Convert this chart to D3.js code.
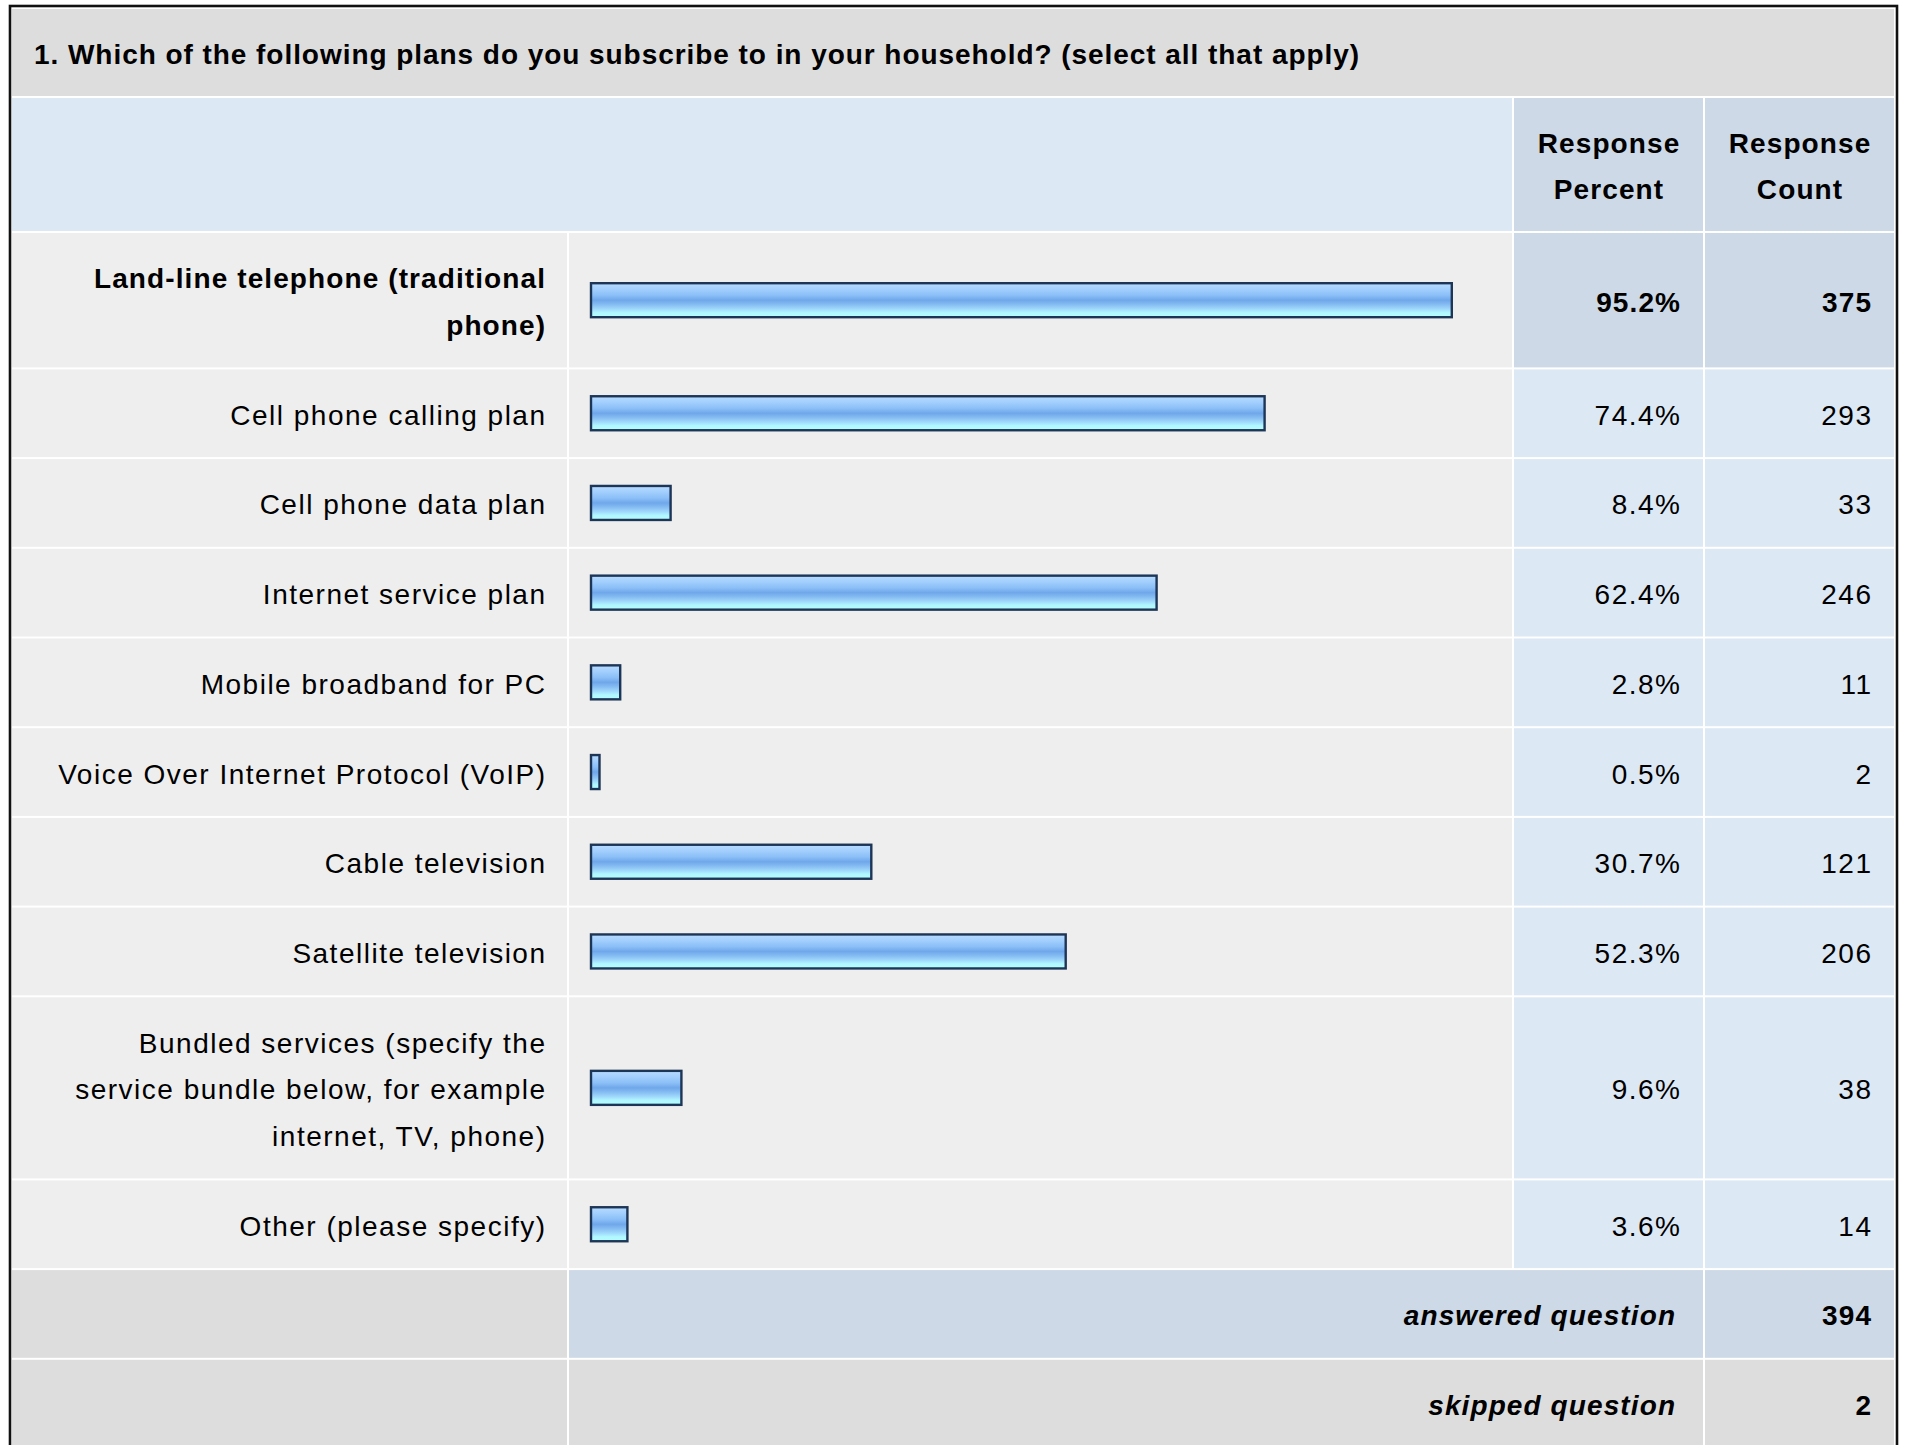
<!DOCTYPE html>
<html>
<head>
<meta charset="utf-8">
<script src="https://cdn.jsdelivr.net/npm/d3@7"></script>
<style>
  html, body { margin: 0; padding: 0; background: #ffffff; }
  svg { display: block; }
  text { font-family: "Liberation Sans", Arial, Helvetica, sans-serif; }
</style>
</head>
<body>
<svg id="chart" width="1909" height="1445"></svg>
<script>
const title = "1. Which of the following plans do you subscribe to in your household? (select all that apply)";
const headerPercent = ["Response", "Percent"];
const headerCount = ["Response", "Count"];
const categories = [
  "Land-line telephone (traditional phone)",
  "Cell phone calling plan",
  "Cell phone data plan",
  "Internet service plan",
  "Mobile broadband for PC",
  "Voice Over Internet Protocol (VoIP)",
  "Cable television",
  "Satellite television",
  "Bundled services (specify the service bundle below, for example internet, TV, phone)",
  "Other (please specify)"
];
const percents = [95.2, 74.4, 8.4, 62.4, 2.8, 0.5, 30.7, 52.3, 9.6, 3.6];
const counts = [375, 293, 33, 246, 11, 2, 121, 206, 38, 14];
const highlighted = [true, false, false, false, false, false, false, false, false, false];
const summaryLabels = ["answered question", "skipped question"];
const summaryValues = [394, 2];

const svg = d3.select("#chart");
const FONT = 28, LH = 46.7, PAD = 43;
const LS_NORMAL = 1.5, LS_BOLD = 1.1, LS_TITLE = 0.95;
const col = { l0: 12, l1: 567, b0: 569, b1: 1512, p0: 1514, p1: 1703, c0: 1705, c1: 1894 };
const C = { title: "#dddddd", header: "#dde8f5", headDark: "#cdd9e6", row: "#eeeeee",
            val: "#dde8f5", valDark: "#cdd9e6", gray: "#dddddd" };

// gradient for bars
const defs = svg.append("defs");
const grad = defs.append("linearGradient").attr("id", "barGrad")
  .attr("x1", 0).attr("y1", 0).attr("x2", 0).attr("y2", 1);
[[0, "#b8dcff"], [0.18, "#a2cffd"], [0.35, "#8cc0f7"], [0.5, "#6fa7ea"], [0.62, "#84bbf2"],
 [0.75, "#9ed6fb"], [0.86, "#b0f6ff"], [1, "#b4ffff"]]
  .forEach(([o, c]) => grad.append("stop").attr("offset", o).attr("stop-color", c));

// title band
svg.append("rect").attr("x", col.l0).attr("y", 9).attr("width", col.c1 - col.l0).attr("height", 87).attr("fill", C.title);
svg.append("text").attr("x", 34).attr("y", 64).attr("font-size", FONT).attr("font-weight", "bold")
  .attr("letter-spacing", LS_TITLE).attr("fill", "#000").text(title);

// header band
const hy0 = 98, hy1 = 231;
svg.append("rect").attr("x", col.l0).attr("y", hy0).attr("width", col.b1 - col.l0).attr("height", hy1 - hy0).attr("fill", C.header);
svg.append("rect").attr("x", col.p0).attr("y", hy0).attr("width", col.p1 - col.p0).attr("height", hy1 - hy0).attr("fill", C.headDark);
svg.append("rect").attr("x", col.c0).attr("y", hy0).attr("width", col.c1 - col.c0).attr("height", hy1 - hy0).attr("fill", C.headDark);

function multiline(lines, x, cy, anchor, weight, style) {
  const n = lines.length;
  const ls = weight === "bold" ? LS_BOLD : LS_NORMAL;
  const shift = anchor === "end" ? ls : anchor === "middle" ? ls / 2 : 0;
  const t = svg.append("text").attr("text-anchor", anchor).attr("font-size", FONT)
    .attr("font-weight", weight || "normal").attr("font-style", style || "normal")
    .attr("letter-spacing", ls).attr("fill", "#000");
  lines.forEach((ln, i) => {
    t.append("tspan").attr("x", x + shift).attr("y", cy + 11.5 + (i - (n - 1) / 2) * LH).text(ln);
  });
  return t;
}
multiline(headerPercent, (col.p0 + col.p1) / 2, (hy0 + hy1) / 2, "middle", "bold");
multiline(headerCount, (col.c0 + col.c1) / 2, (hy0 + hy1) / 2, "middle", "bold");

// wrap labels by measured width
const measure = svg.append("text").attr("font-size", FONT).attr("visibility", "hidden");
function wrap(str, bold, maxW) {
  measure.attr("font-weight", bold ? "bold" : "normal").attr("letter-spacing", bold ? LS_BOLD : LS_NORMAL);
  const words = str.split(" ");
  const lines = [];
  let cur = "";
  words.forEach(w => {
    const test = cur ? cur + " " + w : w;
    measure.text(test);
    if (measure.node().getComputedTextLength() > maxW && cur) { lines.push(cur); cur = w; }
    else cur = test;
  });
  if (cur) lines.push(cur);
  return lines;
}

// bar length scale (bars carry a 6px frame on top of the scaled length)
const x = d3.scaleLinear().domain([0, 100]).range([0, 900]);
const BAR_X = 590, BAR_FRAME = 6, BAR_H = 36;

let yb = 232;
categories.forEach((cat, i) => {
  const bold = highlighted[i];
  const lines = wrap(cat, bold, 500);
  const h = PAD + LH * lines.length;
  const y0 = yb + 1, y1 = yb + h - 1, cy = yb + h / 2;
  svg.append("rect").attr("x", col.l0).attr("y", y0).attr("width", col.l1 - col.l0).attr("height", y1 - y0).attr("fill", C.row);
  svg.append("rect").attr("x", col.b0).attr("y", y0).attr("width", col.b1 - col.b0).attr("height", y1 - y0).attr("fill", C.row);
  svg.append("rect").attr("x", col.p0).attr("y", y0).attr("width", col.p1 - col.p0).attr("height", y1 - y0).attr("fill", bold ? C.valDark : C.val);
  svg.append("rect").attr("x", col.c0).attr("y", y0).attr("width", col.c1 - col.c0).attr("height", y1 - y0).attr("fill", bold ? C.valDark : C.val);
  multiline(lines, 545, cy, "end", bold ? "bold" : "normal");
  const w = x(percents[i]) + BAR_FRAME;
  svg.append("rect").attr("x", BAR_X + 1).attr("y", cy - BAR_H / 2 + 1).attr("width", w - 2).attr("height", BAR_H - 2)
    .attr("fill", "url(#barGrad)").attr("stroke", "#1d3557").attr("stroke-width", 2.4);
  multiline([percents[i].toFixed(1) + "%"], 1680, cy, "end", bold ? "bold" : "normal");
  multiline([String(counts[i])], 1871, cy, "end", bold ? "bold" : "normal");
  yb += h;
});

// summary rows
summaryLabels.forEach((lab, i) => {
  const h = PAD + LH;
  const y0 = yb + 1, y1 = yb + h - 1, cy = yb + h / 2;
  const mid = i === 0 ? C.valDark : C.gray;
  svg.append("rect").attr("x", col.l0).attr("y", y0).attr("width", col.l1 - col.l0).attr("height", y1 - y0).attr("fill", C.gray);
  svg.append("rect").attr("x", col.b0).attr("y", y0).attr("width", col.p1 - col.b0).attr("height", y1 - y0).attr("fill", mid);
  svg.append("rect").attr("x", col.c0).attr("y", y0).attr("width", col.c1 - col.c0).attr("height", y1 - y0).attr("fill", mid);
  multiline([lab], 1675, cy, "end", "bold", "italic");
  multiline([String(summaryValues[i])], 1871, cy, "end", "bold");
  yb += h;
});

// outer border
svg.append("rect").attr("x", 10).attr("y", 6).attr("width", 1887).attr("height", 1500)
  .attr("fill", "none").attr("stroke", "#111").attr("stroke-width", 2.6);
measure.remove();
</script>
</body>
</html>
